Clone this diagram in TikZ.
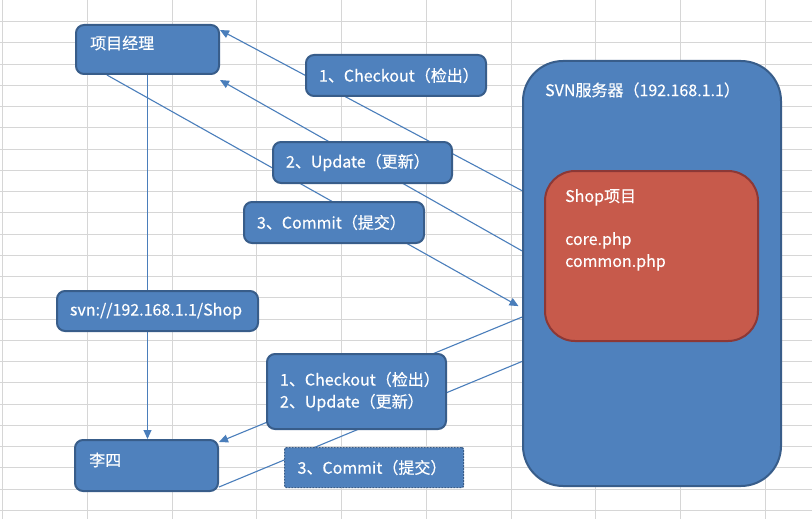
\documentclass[tikz,border=0pt]{standalone}
\usepackage{fontspec}
\setmainfont{Noto Sans CJK SC}[FakeBold=0.4]
\usetikzlibrary{arrows.meta, positioning, calc}
\usepackage{xcolor}
\definecolor{boxblue}{HTML}{4F81BD}
\definecolor{boxedge}{HTML}{385D8A}
\definecolor{linkblue}{HTML}{4A7EBB}
\definecolor{boxred}{HTML}{C75A4B}
\definecolor{rededge}{HTML}{8C3836}
\definecolor{cellgrid}{HTML}{D6D6D6}
\pgfdeclarelayer{grid}
\pgfdeclarelayer{links}
\pgfsetlayers{grid,links,main}

\begin{document}
\begin{tikzpicture}[x=1pt, y=-1pt, >={Triangle[length=9pt,width=8pt]},
  font=\fontsize{16}{22}\selectfont,
  box/.style={draw=boxedge, line width=2pt, fill=boxblue, rounded corners=8pt,
    text=white, align=left, inner xsep=13pt, anchor=north west},
  txt/.style={text=white, inner sep=0pt, anchor=west},
  link/.style={draw=linkblue, line width=1.1pt}]
  \useasboundingbox (0,0) rectangle (812,519);

  % Left column: people and repository url
  \node[box, minimum width=143, minimum height=49] (pm) at (75,24) {};
  \node[txt] (pmT) at (90,43) {项目经理};
  \node[box, minimum width=201, minimum height=40, text width=175pt] (url) at (56,290) {svn://192.168.1.1/Shop};
  \node[box, minimum width=143, minimum height=51] (lisi) at (74,439) {};
  \node[txt] (lisiT) at (89,460) {李四};

  % Operations of the manager
  \node[box, minimum width=180, minimum height=41, text width=154pt] (co1) at (305,54) {1、Checkout（检出）};
  \node[box, minimum width=179, minimum height=41, text width=153pt] (up1) at (272,141) {2、Update（更新）};
  \node[box, minimum width=180, minimum height=41, text width=154pt] (cm1) at (243,201) {3、Commit（提交）};

  % Operations of Li Si
  \node[box, minimum width=179, minimum height=75, text width=153pt] (cu2) at (266,353) {1、Checkout（检出）\\2、Update（更新）};
  \node[box, rounded corners=2pt, line width=1.2pt, dash pattern=on 2pt off 1pt,
    minimum width=179, minimum height=40, text width=153pt] (cm2) at (284,447) {3、Commit（提交）};

  % Server with the project inside
  \node[box, rounded corners=40pt, minimum width=258, minimum height=425] (server) at (522,60) {};
  \node[txt] (serverT) at (545,90) {SVN服务器（192.168.1.1）};
  \node[box, fill=boxred, draw=rededge, rounded corners=30pt, minimum width=213, minimum height=170] (shop) at (544,170) {};
  \node[txt, anchor=north west, align=left] (shopT) at (565,189) {Shop项目\\[21pt]core.php\\common.php};

  % spreadsheet cells behind everything
  \begin{pgfonlayer}{grid}
    \fill[white] (0,0) rectangle (812,519);
    \foreach \i in {0,...,9}
      \draw[cellgrid, line width=1pt] (2.7+84.75*\i,0) -- ++(0,519);
    \foreach \j in {1,...,24}
      \draw[cellgrid, line width=1pt] (0,0.3+21.25*\j) -- ++(812,0);
  \end{pgfonlayer}

  % --- Connectors (behind the boxes) ---
  \begin{pgfonlayer}{links}
    \draw[link,->] ($(server.north west)!.306!(server.south west)$) -- ([yshift=-6pt]pm.north east);
    \draw[link,->] ($(server.north west)!.447!(server.south west)$) -- ([yshift=-5pt]pm.south east);
    \draw[link,->,shorten >=4pt] ($(pm.south west)!.22!(pm.south east)$) -- ($(server.north west)!.581!(server.south west)$);

    \draw[link,->] (pm.south) -- (pm.south |- lisi.north);

    \draw[link,->] ($(server.north west)!.602!(server.south west)$) -- ([yshift=-3pt]lisi.north east);
    \draw[link] ([yshift=5pt]lisi.south east) -- ($(server.north west)!.706!(server.south west)$);
  \end{pgfonlayer}
\end{tikzpicture}
\end{document}
